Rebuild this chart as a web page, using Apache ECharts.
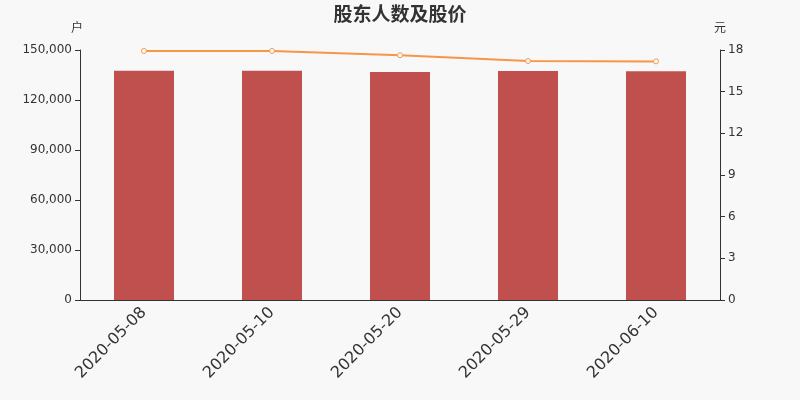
<!DOCTYPE html>
<html><head><meta charset="utf-8">
<script src="https://cdn.jsdelivr.net/npm/echarts@6/dist/echarts.min.js"></script>
<style>html,body{margin:0;padding:0;background:#f8f8f8}#c{width:800px;height:400px}</style>
</head><body><div id="c"></div>
<script>
var categories = ['2020-05-08','2020-05-10','2020-05-20','2020-05-29','2020-06-10'];
var holders = [137600, 137600, 136800, 137400, 137200];
var prices = [17.93, 17.93, 17.62, 17.21, 17.18];
var chart = echarts.init(document.getElementById('c'));
var ff = 'DejaVu Sans, Noto Sans CJK SC';
chart.setOption({
  backgroundColor:'#f8f8f8',
  animation:false,
  textStyle:{fontFamily:ff},
  title:{text:'股东人数及股价',left:'center',top:2,textStyle:{fontSize:19,fontWeight:'bold',color:'#333',fontFamily:ff}},
  grid:{left:80,right:80,top:50,bottom:100},
  xAxis:{type:'category',data:categories,boundaryGap:true,
    axisLine:{lineStyle:{color:'#333'}},axisTick:{alignWithLabel:false,lineStyle:{color:'#333'}},
    axisLabel:{rotate:45,fontSize:16,color:'#333',margin:10,fontFamily:ff}},
  yAxis:[
    {type:'value',name:'户',min:0,max:150000,interval:30000,nameTextStyle:{color:'#333',fontSize:12,padding:[0,0,0,-6],fontFamily:ff},
     axisLine:{show:true,lineStyle:{color:'#333'}},axisTick:{show:true},splitLine:{show:false},
     axisLabel:{color:'#333',fontSize:12,fontFamily:ff,formatter:function(v){return v.toLocaleString('en-US');}}},
    {type:'value',name:'元',min:0,max:18,interval:3,nameTextStyle:{color:'#333',fontSize:12,fontFamily:ff},
     axisLine:{show:true,lineStyle:{color:'#333'}},axisTick:{show:true},splitLine:{show:false},
     axisLabel:{color:'#333',fontSize:12,fontFamily:ff}}
  ],
  series:[
    {type:'bar',data:holders,barWidth:60,itemStyle:{color:'#c0504d'}},
    {type:'line',yAxisIndex:1,data:prices,symbol:'circle',symbolSize:5,
     lineStyle:{color:'#f79646',width:2},itemStyle:{color:'#fff',borderColor:'#f79646',borderWidth:1}}
  ]
});
</script></body></html>
